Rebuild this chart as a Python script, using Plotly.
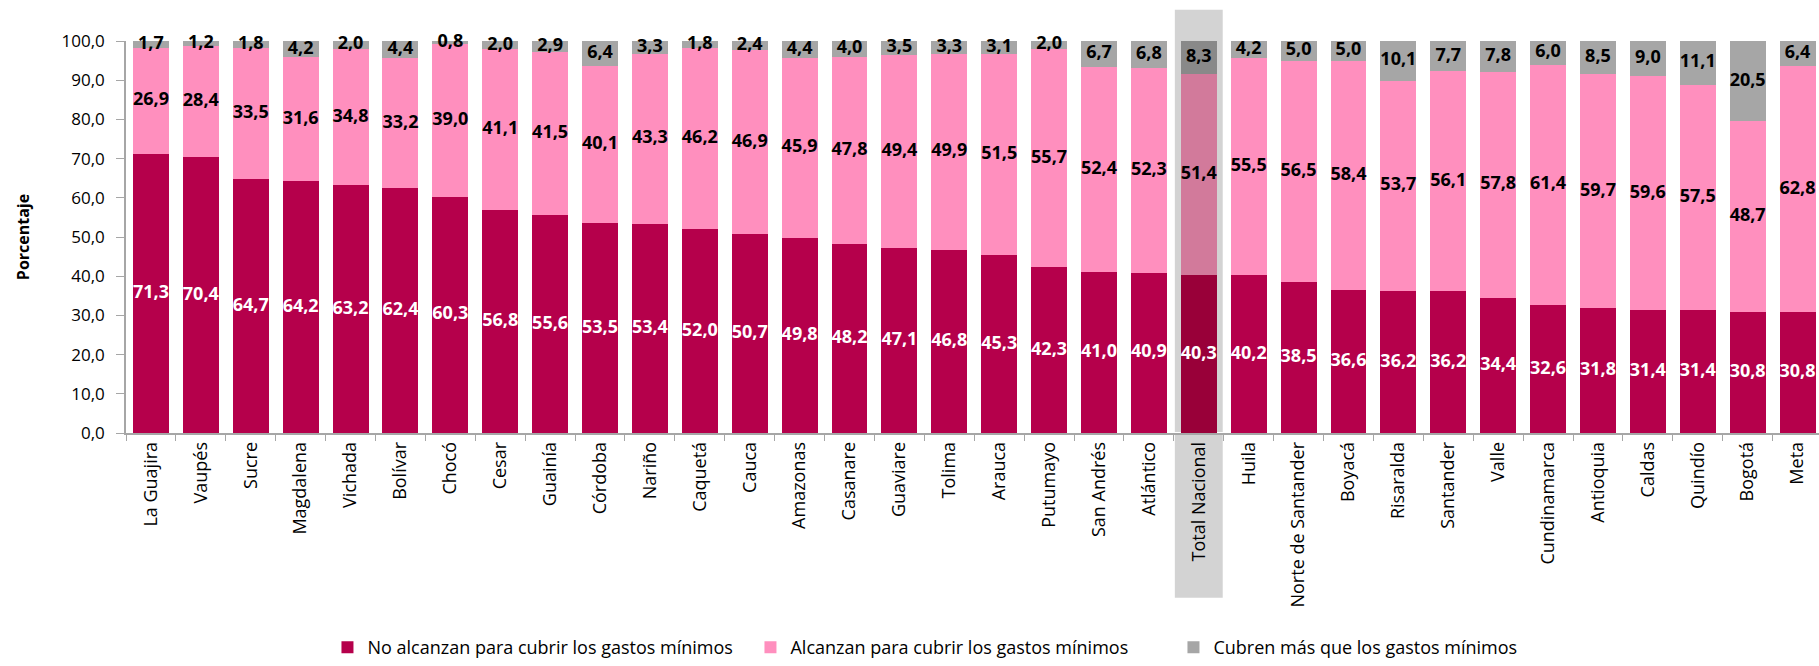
import plotly.graph_objects as go

departamentos = ['La Guajira', 'Vaupés', 'Sucre', 'Magdalena', 'Vichada', 'Bolívar', 'Chocó',
                 'Cesar', 'Guainía', 'Córdoba', 'Nariño', 'Caquetá', 'Cauca', 'Amazonas',
                 'Casanare', 'Guaviare', 'Tolima', 'Arauca', 'Putumayo', 'San Andrés',
                 'Atlántico', 'Total Nacional', 'Huila', 'Norte de Santander', 'Boyacá',
                 'Risaralda', 'Santander', 'Valle', 'Cundinamarca', 'Antioquia', 'Caldas',
                 'Quindío', 'Bogotá', 'Meta']

no_alcanzan = [71.3, 70.4, 64.7, 64.2, 63.2, 62.4, 60.3, 56.8, 55.6, 53.5, 53.4, 52.0,
               50.7, 49.8, 48.2, 47.1, 46.8, 45.3, 42.3, 41.0, 40.9, 40.3, 40.2, 38.5,
               36.6, 36.2, 36.2, 34.4, 32.6, 31.8, 31.4, 31.4, 30.8, 30.8]

alcanzan = [26.9, 28.4, 33.5, 31.6, 34.8, 33.2, 39.0, 41.1, 41.5, 40.1, 43.3, 46.2,
            46.9, 45.9, 47.8, 49.4, 49.9, 51.5, 55.7, 52.4, 52.3, 51.4, 55.5, 56.5,
            58.4, 53.7, 56.1, 57.8, 61.4, 59.7, 59.6, 57.5, 48.7, 62.8]

cubren_mas = [1.7, 1.2, 1.8, 4.2, 2.0, 4.4, 0.8, 2.0, 2.9, 6.4, 3.3, 1.8,
              2.4, 4.4, 4.0, 3.5, 3.3, 3.1, 2.0, 6.7, 6.8, 8.3, 4.2, 5.0,
              5.0, 10.1, 7.7, 7.8, 6.0, 8.5, 9.0, 11.1, 20.5, 6.4]

total = 'Total Nacional'
fuente = 'Open Sans'


def etiquetas(valores):
    return [f'{v:.1f}'.replace('.', ',') for v in valores]


def colores(normal, resaltado):
    return [resaltado if d == total else normal for d in departamentos]


series = [
    ('No alcanzan para cubrir los gastos mínimos', no_alcanzan, '#B5004B', '#990039', 'white'),
    ('Alcanzan para cubrir los gastos mínimos', alcanzan, '#FF8FBE', '#D27A9B', 'black'),
    ('Cubren más que los gastos mínimos', cubren_mas, '#A6A6A6', '#898989', 'black'),
]

fig = go.Figure()

base = [0.0] * len(departamentos)
for nombre, valores, color, color_total, color_texto in series:
    fig.add_trace(go.Bar(
        name=nombre,
        x=departamentos,
        y=valores,
        marker=dict(color=colores(color, color_total), line=dict(width=0)),
        hoverinfo='skip',
    ))
    # etiquetas centradas en cada segmento
    medio = [b + v / 2 for b, v in zip(base, valores)]
    fig.add_trace(go.Scatter(
        x=departamentos,
        y=medio,
        mode='text',
        text=etiquetas(valores),
        textposition='middle center',
        textfont=dict(family=fuente, size=18, color=color_texto, weight='bold'),
        showlegend=False,
        cliponaxis=False,
        hoverinfo='skip',
    ))
    base = [b + v for b, v in zip(base, valores)]

# sombreado detras del total nacional
i_total = departamentos.index(total)
fig.add_shape(
    type='rect', xref='x', yref='paper',
    x0=i_total - 0.48, x1=i_total + 0.48, y0=-0.42, y1=1.08,
    fillcolor='#D3D3D3', line=dict(width=0), layer='below',
)

fig.update_layout(
    barmode='stack',
    bargap=0.28,
    width=1819,
    height=666,
    margin=dict(l=126, r=0, t=41, b=224),
    plot_bgcolor='white',
    paper_bgcolor='white',
    font=dict(family=fuente, size=17, color='black'),
    separators=',.',
    legend=dict(
        orientation='h',
        x=0.119, xanchor='left',
        y=-0.5, yanchor='top',
        font=dict(size=18),
        entrywidth=378,
        traceorder='normal',
    ),
    xaxis=dict(
        automargin=False,
        tickangle=-90,
        tickfont=dict(size=18),
        showline=True, linecolor='#A6A6A6', linewidth=1.5,
        ticks='outside', tickson='boundaries', tickcolor='#A6A6A6', ticklen=6,
        range=[-0.5, 33.43],
    ),
    yaxis=dict(
        automargin=False,
        range=[0, 100],
        tickvals=list(range(0, 101, 10)),
        tickformat='.1f',
        tickfont=dict(size=17),
        ticklabelstandoff=8,
        showgrid=False,
        showline=True, linecolor='#A6A6A6', linewidth=1.5,
        ticks='outside', tickcolor='#A6A6A6', ticklen=8,
        title=dict(text='Porcentaje', font=dict(size=16, weight='bold'), standoff=28),
    ),
)

fig.write_html(
    'out.html',
    config={'displayModeBar': False},
    post_script="document.body.style.margin='0';document.body.style.overflow='hidden';",
)
